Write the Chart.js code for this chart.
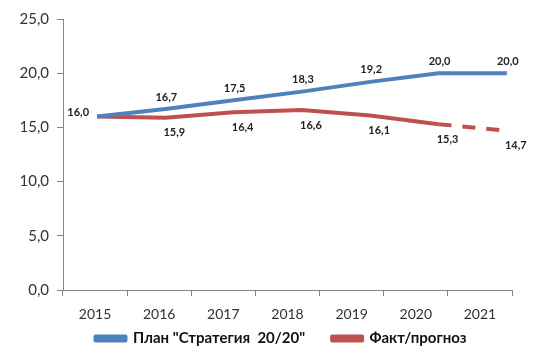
<!DOCTYPE html>
<html><head><meta charset="utf-8">
<script src="https://cdn.jsdelivr.net/npm/chart.js@4.4.1/dist/chart.umd.min.js"></script>
<style>html,body{margin:0;padding:0;background:#fff}#wrap{width:550px;height:357px}</style>
</head><body><div id="wrap"><canvas id="c" width="550" height="357"></canvas></div>
<script>
const categories = ['2015','2016','2017','2018','2019','2020','2021'];
const planValues = [16.0, 16.7, 17.5, 18.3, 19.2, 20.0, 20.0];
const factValues = [16.0, 15.9, 16.4, 16.6, 16.1, 15.3, 14.7];
const planLabel = 'План "Стратегия  20/20"';
const factLabel = 'Факт/прогноз';
const forecastStartIndex = 5;
const yTicks = [0, 5, 10, 15, 20, 25];

const FONT = 'Lato, "Liberation Sans", sans-serif';
const fmt = v => v.toFixed(1).replace('.', ',');
const LEGEND_DX = 25, LEGEND_DY = -22;

const labelPlugin = {
  id: 'valueLabels',
  afterLayout(chart) {
    const lg = chart.legend;
    if (lg) {
      lg.left += LEGEND_DX; lg.right += LEGEND_DX; lg.width = lg.right - lg.left;
      lg.top += LEGEND_DY; lg.height = lg.bottom - lg.top;
    }
  },
  afterDatasetsDraw(chart) {
    const ctx = chart.ctx;
    ctx.save();
    ctx.font = 'bold 11px ' + FONT;
    ctx.fillStyle = '#222';
    ctx.textBaseline = 'middle';
    chart.data.datasets.forEach((ds, di) => {
      const meta = chart.getDatasetMeta(di);
      meta.data.forEach((pt, i) => {
        const v = ds.data[i].y;
        if (di === 1 && i === 0) return;
        let x = pt.x, y = pt.y;
        if (di === 0 && i === 0) {
          ctx.textAlign = 'right';
          ctx.fillText(fmt(v), x - 8, y - 4);
          return;
        }
        ctx.textAlign = 'center';
        if (di === 0) ctx.fillText(fmt(v), x + 1, y - 12);
        else ctx.fillText(fmt(v), x + 9, y + 15);
      });
    });
    ctx.restore();
  }
};

const toPoints = arr => arr.map((v, i) => ({x: i, y: v}));

new Chart(document.getElementById('c'), {
  type: 'line',
  data: {
    labels: categories,
    datasets: [
      {
        label: planLabel,
        data: toPoints(planValues),
        xAxisID: 'xl',
        borderColor: '#4F81BD',
        backgroundColor: '#4F81BD',
        borderWidth: 4,
        pointRadius: 0,
        tension: 0,
        borderJoinStyle: 'round'
      },
      {
        label: factLabel,
        data: toPoints(factValues),
        xAxisID: 'xl',
        borderColor: '#C0504D',
        backgroundColor: '#C0504D',
        borderWidth: 4,
        pointRadius: 0,
        tension: 0,
        borderJoinStyle: 'round',
        borderCapStyle: 'butt',
        segment: {
          borderDash: c => c.p0DataIndex >= forecastStartIndex ? [13, 11] : undefined
        }
      }
    ]
  },
  options: {
    responsive: false,
    animation: false,
    layout: { padding: { left: 0, right: 38, top: 19, bottom: 0 } },
    plugins: {
      legend: {
        position: 'bottom',
        maxHeight: 31,
        labels: {
          font: { family: FONT, size: 15, weight: 'bold' },
          color: '#111',
          boxWidth: 30,
          boxHeight: 4,
          padding: 27
        }
      },
      tooltip: { enabled: false }
    },
    scales: {
      x: {
        type: 'category',
        offset: true,
        grid: { display: true, offset: true, drawOnChartArea: false, drawTicks: true, tickLength: 6, color: '#868686' },
        border: { display: true, color: '#868686', width: 1 },
        ticks: { font: { family: FONT, size: 14 }, color: '#333', padding: 10 },
        afterFit: s => { s.height = 36; }
      },
      xl: {
        type: 'linear',
        display: false,
        min: -0.498,
        max: 6.076
      },
      y: {
        min: 0, max: 25,
        afterBuildTicks: s => { s.ticks = yTicks.map(v => ({value: v})); },
        grid: { display: true, drawOnChartArea: false, drawTicks: true, tickLength: 6, color: '#868686' },
        border: { display: true, color: '#868686', width: 1 },
        ticks: { font: { family: FONT, size: 15 }, color: '#333', padding: 8, callback: v => fmt(v) },
        afterFit: s => { s.width = 63; }
      }
    }
  },
  plugins: [labelPlugin]
});
</script></body></html>
